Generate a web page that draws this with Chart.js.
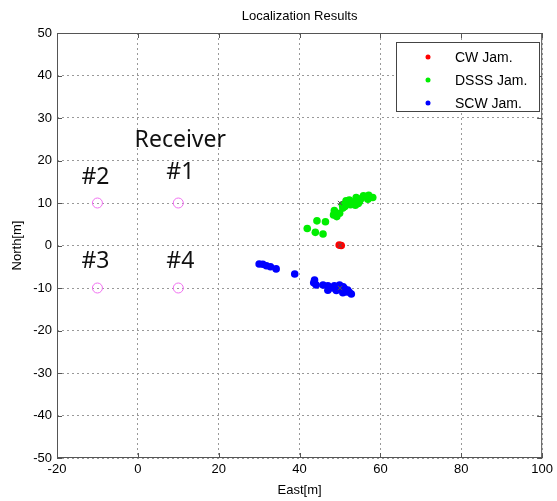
<!DOCTYPE html>
<html>
<head>
<meta charset="utf-8">
<script src="https://cdn.jsdelivr.net/npm/chart.js@4"></script>
<style>
  html, body { margin: 0; padding: 0; background: #fff; }
  #wrap { width: 557px; height: 501px; }
</style>
</head>
<body>
<div id="wrap"><canvas id="chart" width="557" height="501"></canvas></div>
<script>
// values (East, North in metres)
const cwEast = [49.8, 50.3];
const cwNorth = [0.1, 0.0];

const dsssEast = [41.9, 44.3, 46.4, 43.9, 45.8, 48.6, 49.2, 49.9, 50.7, 51.5, 52.3, 53.2, 54.0, 54.8, 55.8, 56.9, 58.1, 53.8, 52.6, 54.5, 55.2, 50.6, 48.4, 57.1, 53.0, 51.2];
const dsssNorth = [4.0, 5.8, 5.6, 3.1, 2.7, 8.2, 6.8, 7.6, 8.8, 10.5, 10.7, 9.9, 11.3, 10.3, 11.7, 10.9, 11.3, 9.5, 9.6, 9.9, 11.0, 9.6, 7.2, 11.8, 10.2, 9.2];

const scwEast = [30.0, 30.9, 31.8, 32.8, 34.2, 38.8, 43.7, 43.5, 45.8, 47.0, 47.0, 48.6, 49.9, 50.3, 50.7, 51.5, 52.8, 49.5, 49.1, 51.1, 51.9, 44.1, 48.2, 50.8, 52.3];
const scwNorth = [-4.35, -4.4, -4.75, -5.0, -5.5, -6.7, -8.1, -8.75, -9.3, -9.5, -10.5, -9.5, -9.3, -10.3, -11.1, -10.9, -11.4, -10.1, -10.6, -10.1, -10.5, -9.3, -10.0, -9.7, -11.0];

const trueEast = [50, 50, 50];
const trueNorth = [10, 0, -10];

const rxEast = [10, -10, -10, 10];
const rxNorth = [10, 10, -10, -10];

// receiver labels (text placed in data coordinates)
const rxLabels = ['Receiver', '#1', '#2', '#3', '#4'];
const rxLabelEast = [10.5, 10.5, -10.5, -10.5, 10.5];
const rxLabelNorth = [24.8, 17.2, 16.0, -3.8, -3.8];

const xTicks = [-20, 0, 20, 40, 60, 80, 100];
const yTicks = [-50, -40, -30, -20, -10, 0, 10, 20, 30, 40, 50];

const toPts = (xs, ys) => xs.map((x, i) => ({ x: x, y: ys[i] }));

const tickFont = { family: 'Liberation Sans, Arial, sans-serif', size: 13 };

const decorations = {
  id: 'decorations',
  afterDatasetsDraw(chart) {
    const ctx = chart.ctx;
    const area = chart.chartArea;
    const xs = chart.scales.x, ys = chart.scales.y;
    ctx.save();

    // plot box with inward ticks
    ctx.strokeStyle = '#555';
    ctx.lineWidth = 1;
    ctx.strokeRect(area.left + 0.5, area.top + 0.5, area.width - 1, area.height - 1);
    ctx.beginPath();
    xTicks.forEach(v => {
      const px = Math.round(xs.getPixelForValue(v)) + 0.5;
      ctx.moveTo(px, area.top); ctx.lineTo(px, area.top + 5);
      ctx.moveTo(px, area.bottom); ctx.lineTo(px, area.bottom - 5);
    });
    yTicks.forEach(v => {
      const py = Math.round(ys.getPixelForValue(v)) + 0.5;
      ctx.moveTo(area.left, py); ctx.lineTo(area.left + 5, py);
      ctx.moveTo(area.right, py); ctx.lineTo(area.right - 5, py);
    });
    ctx.stroke();

    // receiver labels
    ctx.fillStyle = '#111';
    ctx.font = '23px "Noto Sans", sans-serif';
    ctx.textAlign = 'center';
    ctx.textBaseline = 'middle';
    rxLabels.forEach((t, i) => {
      ctx.fillText(t, xs.getPixelForValue(rxLabelEast[i]), ys.getPixelForValue(rxLabelNorth[i]));
    });

    // title and axis labels
    ctx.font = '13px "Liberation Sans", Arial, sans-serif';
    ctx.fillStyle = '#000';
    ctx.fillText('Localization Results', (area.left + area.right) / 2, 16);
    ctx.fillText('East[m]', (area.left + area.right) / 2, 490);
    ctx.save();
    ctx.translate(17, (area.top + area.bottom) / 2);
    ctx.rotate(-Math.PI / 2);
    ctx.fillText('North[m]', 0, 0);
    ctx.restore();

    // legend box
    const lx = 396, ly = 42, lw = 143, lh = 69;
    ctx.fillStyle = '#fff';
    ctx.fillRect(lx, ly, lw, lh);
    ctx.strokeStyle = '#444';
    ctx.strokeRect(lx + 0.5, ly + 0.5, lw, lh);
    ctx.font = '14px "Liberation Sans", Arial, sans-serif';
    ctx.textAlign = 'left';
    const items = chart.data.datasets.filter(d => d.inLegend);
    items.forEach((d, i) => {
      const yy = 57 + i * 23;
      ctx.beginPath();
      ctx.arc(428, yy, 2.5, 0, Math.PI * 2);
      ctx.fillStyle = d.backgroundColor;
      ctx.fill();
      ctx.fillStyle = '#000';
      ctx.fillText(d.label, 455, yy + 1);
    });
    ctx.restore();
  }
};

new Chart(document.getElementById('chart'), {
  type: 'scatter',
  data: {
    datasets: [
      { label: 'True', data: toPts(trueEast, trueNorth), pointStyle: 'crossRot', radius: 3, borderColor: '#555', borderWidth: 1, backgroundColor: '#555', order: 0 },
      { label: 'CW Jam.', inLegend: true, data: toPts(cwEast, cwNorth), backgroundColor: '#ff0000', borderColor: '#ff0000', radius: 3.8, borderWidth: 0, order: 1 },
      { label: 'DSSS Jam.', inLegend: true, data: toPts(dsssEast, dsssNorth), backgroundColor: '#00ee00', borderColor: '#00ee00', radius: 3.8, borderWidth: 0, order: 2 },
      { label: 'SCW Jam.', inLegend: true, data: toPts(scwEast, scwNorth), backgroundColor: '#0000ff', borderColor: '#0000ff', radius: 3.8, borderWidth: 0, order: 3 },
      { label: 'Receivers', data: toPts(rxEast, rxNorth), backgroundColor: 'rgba(0,0,0,0)', borderColor: '#f070f0', radius: 5, borderWidth: 1, order: 4 }
    ]
  },
  options: {
    responsive: false,
    animation: false,
    events: [],
    layout: { padding: { top: 33, right: 14, left: 0, bottom: 0 } },
    plugins: { legend: { display: false }, title: { display: false }, tooltip: { enabled: false } },
    scales: {
      x: {
        type: 'linear', min: -20, max: 100,
        afterBuildTicks: s => { s.ticks = xTicks.map(v => ({ value: v })); },
        afterFit: s => { s.height = 43; },
        grid: { color: '#999', drawTicks: false },
        border: { display: false, dash: [2, 3] },
        ticks: { color: '#000', font: tickFont, padding: 4, maxRotation: 0 }
      },
      y: {
        type: 'linear', min: -50, max: 50,
        afterBuildTicks: s => { s.ticks = yTicks.map(v => ({ value: v })); },
        afterFit: s => { s.width = 57; },
        grid: { color: '#999', drawTicks: false },
        border: { display: false, dash: [2, 3] },
        ticks: { color: '#000', font: tickFont, padding: 5 }
      }
    }
  },
  plugins: [decorations]
});
</script>
</body>
</html>
